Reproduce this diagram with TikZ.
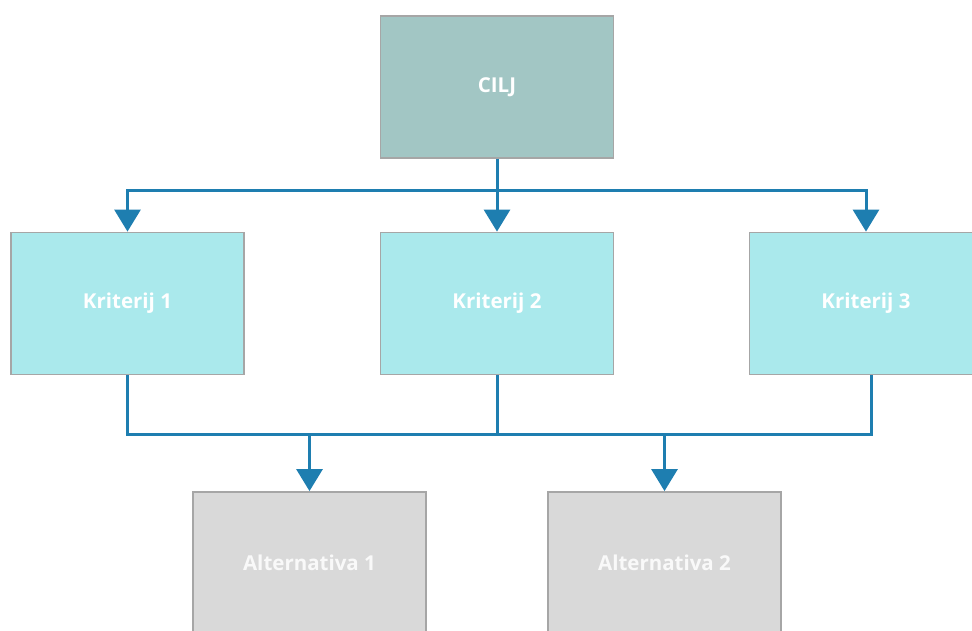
\documentclass[tikz,border=0pt]{standalone}
\usepackage{fontspec}
\setmainfont{Open Sans}
\usetikzlibrary{arrows.meta}
\definecolor{goalfill}{HTML}{A2C6C4}
\definecolor{critfill}{HTML}{AAE9EC}
\definecolor{altfill}{HTML}{D9D9D9}
\definecolor{boxline}{HTML}{A6A6A6}
\definecolor{conn}{HTML}{1E7EB0}
\tikzset{
  box/.style={draw=boxline, line width=1.8pt, minimum width=233pt, minimum height=142pt,
    inner sep=0pt, text=white, font=\fontsize{20.5}{24}\selectfont\bfseries},
  goal/.style={box, fill=goalfill},
  crit/.style={box, fill=critfill},
  alt/.style={box, fill=altfill, text opacity=0.85},
  link/.style={draw=conn, line width=3pt},
  arr/.style={link, -{Triangle[width=26pt,length=22pt]}}
}
\begin{document}
\begin{tikzpicture}[x=1pt,y=1pt]
\useasboundingbox (0,0) rectangle (972,-630);
\clip (0,0) rectangle (972,-630);
\node[goal] (g) at (497,-87) {CILJ};
\node[crit] (k1) at (127.5,-303.5) {Kriterij 1};
\node[crit] (k2) at (497,-303.5) {Kriterij 2};
\node[crit] (k3) at (866,-303.5) {Kriterij 3};
\node[alt] (a1) at (309.5,-563) {Alternativa 1};
\node[alt] (a2) at (664.5,-563) {Alternativa 2};
\coordinate (top) at (497,-190);
\coordinate (bus) at (497,-434);
% goal to criteria
\draw[link] (g.south) -- (top);
\draw[arr] (top) -| (k1.north);
\draw[arr] (top) -- (k2.north);
\draw[arr] (top) -| (k3.north);
% criteria to alternatives
\draw[link] (k1.south) |- (bus);
\draw[link] ([xshift=5pt]k3.south) |- (bus);
\draw[link] (k2.south) -- (bus);
\draw[arr] (bus) -| (a1.north);
\draw[arr] (bus) -| (a2.north);
\end{tikzpicture}
\end{document}
